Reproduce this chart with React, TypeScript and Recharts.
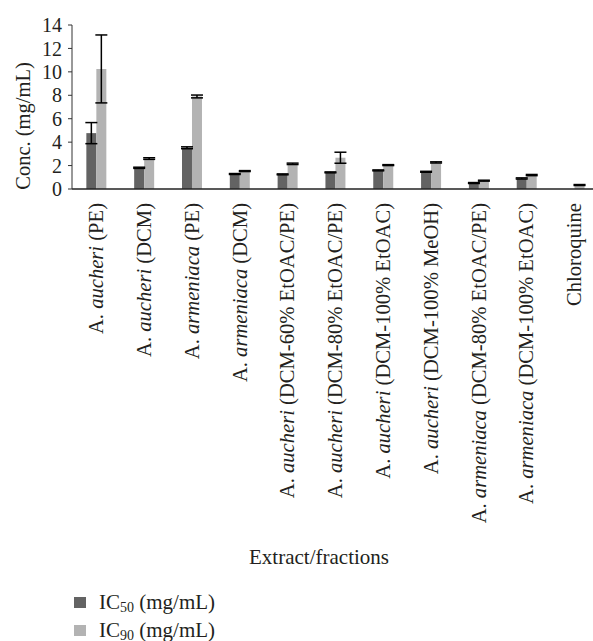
import React from 'react';
import { BarChart, Bar, XAxis, YAxis, ErrorBar, Legend, Label } from 'recharts';

const speciesNames = ['aucheri', 'aucheri', 'armeniaca', 'armeniaca', 'aucheri', 'aucheri', 'aucheri', 'aucheri', 'armeniaca', 'armeniaca', ''];
const extractNames = ['(PE)', '(DCM)', '(PE)', '(DCM)', '(DCM-60% EtOAC/PE)', '(DCM-80% EtOAC/PE)', '(DCM-100% EtOAC)', '(DCM-100% MeOH)', '(DCM-80% EtOAC/PE)', '(DCM-100% EtOAC)', 'Chloroquine'];
const ic50 = [4.77, 1.81, 3.52, 1.28, 1.25, 1.42, 1.59, 1.47, 0.51, 0.9, 0];
const ic90 = [10.25, 2.6, 7.9, 1.53, 2.15, 2.67, 2.04, 2.27, 0.71, 1.19, 0.34];
const err50 = [0.9, 0.05, 0.08, 0.04, 0.04, 0.04, 0.04, 0.04, 0.04, 0.05, 0];
const err90 = [2.9, 0.07, 0.12, 0.04, 0.06, 0.47, 0.04, 0.05, 0.04, 0.05, 0.04];
const yTicks = [0, 2, 4, 6, 8, 10, 12, 14];

const data = extractNames.map((e, i) => ({
  name: String(i),
  ic50: ic50[i],
  ic90: ic90[i],
  err50: err50[i],
  err90: err90[i],
}));

const FONT = '"Liberation Serif", "DejaVu Serif", serif';
const DARK = '#636363';
const LIGHT = '#b3b3b3';
const TEXT = '#231f20';

const XTick = (props: any) => {
  const { x, y, payload } = props;
  const i = Number(payload.value);
  const sp = speciesNames[i];
  return (
    <g transform={`translate(${x},${y}) rotate(-90)`}>
      <text textAnchor="end" dy="0.35em" fontFamily={FONT} fontSize={20.6} fill={TEXT}>
        {sp ? (
          <>
            {'A. '}
            <tspan fontStyle="italic">{sp}</tspan>
            {' ' + extractNames[i]}
          </>
        ) : (
          extractNames[i]
        )}
      </text>
    </g>
  );
};

const LegendContent = () => (
  <div style={{ fontFamily: FONT, fontSize: 21, color: TEXT, lineHeight: '28px' }}>
    {[
      { c: DARK, n: '50' },
      { c: LIGHT, n: '90' },
    ].map((it) => (
      <div key={it.n} style={{ display: 'flex', alignItems: 'center', whiteSpace: 'nowrap', height: 28 }}>
        <span style={{ display: 'inline-block', width: 12, height: 11, background: it.c, marginRight: 13 }} />
        <span>
          IC<sub style={{ fontSize: 14, verticalAlign: '-3px', lineHeight: 0 }}>{it.n}</sub> (mg/mL)
        </span>
      </div>
    ))}
  </div>
);

export default function App() {
  return (
    <div style={{ position: 'absolute', left: 0, top: 0, width: 593, height: 641, overflow: 'hidden', background: '#fff' }}>
      <BarChart
        width={600}
        height={641}
        data={data}
        margin={{ top: 25, right: 2, bottom: 72, left: 0 }}
        barCategoryGap="30%"
        barGap={0}
      >
        <XAxis
          dataKey="name"
          interval={0}
          height={380}
          tick={<XTick />}
          tickLine={false}
          tickMargin={8}
          axisLine={{ stroke: '#222', strokeWidth: 1.4 }}
        >
          <Label
            value="Extract/fractions"
            position="insideTop"
            offset={360}
            dx={-16}
            style={{ fontFamily: FONT, fontSize: 21, fill: TEXT }}
          />
        </XAxis>
        <YAxis
          width={72}
          domain={[0, 14]}
          ticks={yTicks}
          interval={0}
          tick={{ fontFamily: FONT, fontSize: 20, fill: TEXT }}
          tickLine={{ stroke: '#333' }}
          tickSize={4}
          tickMargin={6}
          axisLine={{ stroke: '#333' }}
        >
          <Label
            value="Conc. (mg/mL)"
            angle={-90}
            position="center"
            dx={-13}
            dy={19}
            style={{ fontFamily: FONT, fontSize: 20.5, fill: TEXT, textAnchor: 'middle' }}
          />
        </YAxis>
        <Legend
          layout="vertical"
          align="center"
          verticalAlign="middle"
          content={<LegendContent />}
          wrapperStyle={{ position: 'absolute', left: 74, top: 588, width: 220, height: 56 }}
        />
        <Bar dataKey="ic50" fill={DARK} isAnimationActive={false}>
          <ErrorBar dataKey="err50" width={6} stroke="#000" strokeWidth={1.5} />
        </Bar>
        <Bar dataKey="ic90" fill={LIGHT} isAnimationActive={false}>
          <ErrorBar dataKey="err90" width={6} stroke="#000" strokeWidth={1.5} />
        </Bar>
      </BarChart>
    </div>
  );
}
